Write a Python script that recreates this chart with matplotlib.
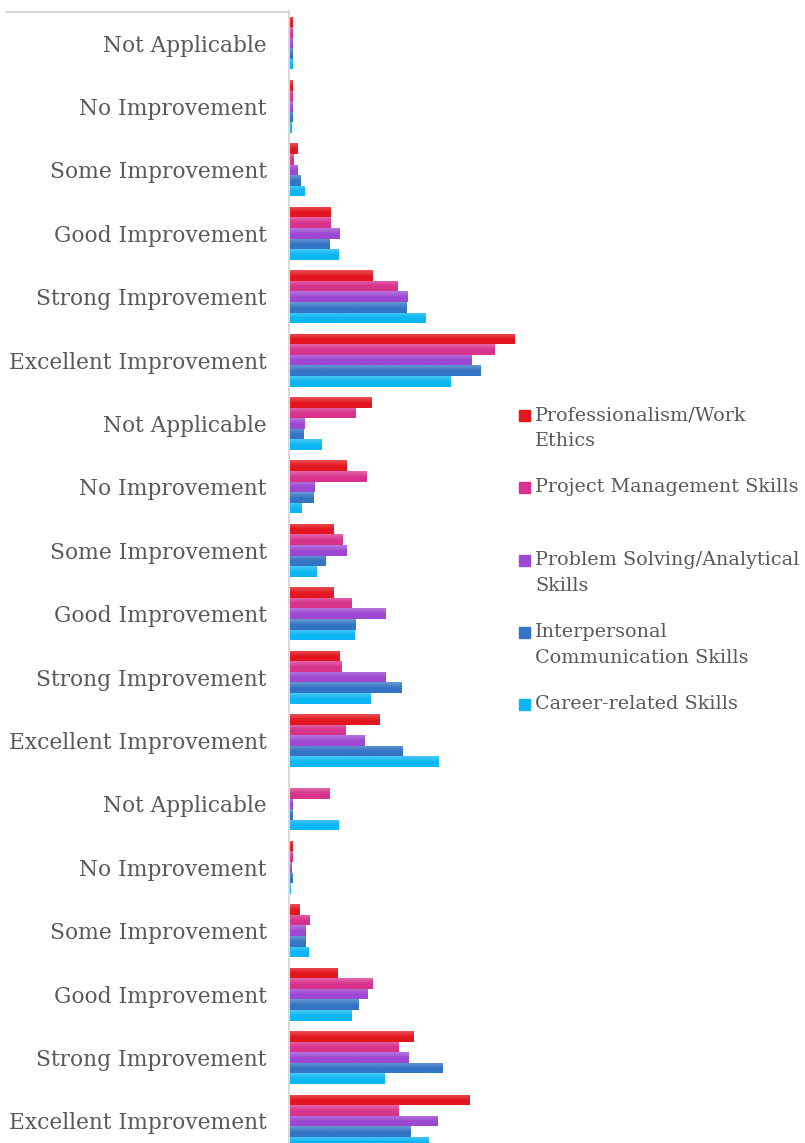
import numpy as np
import matplotlib as mpl
mpl.use("Agg")
from matplotlib import pyplot as plt
from matplotlib.lines import Line2D
from matplotlib.patches import Rectangle
from matplotlib.colors import to_rgb

# categories, top to bottom (three blocks of six)
levels = ["Not Applicable", "No Improvement", "Some Improvement",
          "Good Improvement", "Strong Improvement", "Excellent Improvement"]
categories = levels * 3

series = ["Professionalism/Work\nEthics", "Project Management Skills",
          "Problem Solving/Analytical\nSkills", "Interpersonal\nCommunication Skills",
          "Career-related Skills"]

# percentages (each block per series sums to ~100)
professionalism = [0.8, 0.8, 2.2, 11.3, 22.9, 61.9,
                   22.6, 15.5, 11.9, 11.9, 13.8, 24.8,
                   0.0, 0.8, 2.5, 13.0, 34.2, 49.5]
project_mgmt = [0.8, 0.6, 1.1, 11.3, 29.8, 56.4,
                18.2, 21.0, 14.6, 16.9, 14.1, 15.2,
                11.0, 0.6, 5.5, 22.9, 30.1, 30.0]
problem_solving = [0.8, 0.6, 2.2, 13.8, 32.4, 50.2,
                   4.1, 6.9, 15.5, 26.5, 26.5, 20.5,
                   0.6, 0.3, 4.4, 21.3, 32.6, 40.8]
interpersonal = [0.8, 0.6, 2.8, 11.0, 32.2, 52.6,
                 3.6, 6.6, 9.9, 18.0, 30.9, 31.0,
                 0.6, 0.8, 4.4, 18.8, 42.2, 33.2]
career = [0.8, 0.3, 3.9, 13.3, 37.3, 44.4,
          8.6, 3.3, 7.2, 17.7, 22.1, 41.1,
          13.3, 0.1, 5.2, 17.1, 26.0, 38.3]

values = [professionalism, project_mgmt, problem_solving, interpersonal, career]
colors = ["#e3161e", "#d8338c", "#9d48d2", "#3474c4", "#0cb6f2"]
text_col = "#595959"
font = ["DejaVu Serif"]

W, H = 805, 1143
fig = plt.figure(figsize=(W / 100, H / 100), dpi=100)

# axes spans 290..515 px horizontally, 11.3..1152.7 px vertically (cut at the bottom)
ax = fig.add_axes([290 / W, 1 - 1152.7 / H, 225 / W, 1141.4 / H])


def gradient(c):
    # lighter at the top of the bar, base colour from the middle down
    base = np.array(to_rgb(c))
    light = base + (1 - base) * 0.25
    t = np.clip(np.linspace(0, 1, 32) / 0.55, 0, 1)[:, None]
    g = light * (1 - t) + base * t
    return g[:, None, :]


n = len(categories)
y = np.arange(n)
h = 0.167
for j, (vals, c) in enumerate(zip(values, colors)):
    pos = y + (j - 2) * h
    bars = ax.barh(pos, vals, height=h, color=c, linewidth=0)
    img = gradient(c)
    for b in bars:
        if b.get_width() <= 0:
            continue
        x0, y0 = b.get_x(), b.get_y()
        im = ax.imshow(img, extent=(x0, x0 + b.get_width(), y0 + b.get_height(), y0),
                       aspect="auto", interpolation="bilinear", zorder=b.get_zorder() + 0.1)
        im.set_clip_path(b)

for s in ["top", "right", "bottom"]:
    ax.spines[s].set_visible(False)
ax.spines["left"].set_position(("outward", 1))
ax.spines["left"].set_color("#d9d9d9")
ax.spines["left"].set_linewidth(1.5)
ax.patch.set_alpha(0)

ax.set_ylim(n - 0.5, -0.5)
ax.set_xlim(0, 225 / 3.62)
ax.set_aspect("auto")
ax.set_yticks(y)
ax.set_yticklabels(categories, fontsize=15.7, color=text_col, family=font)
ax.tick_params(axis="y", length=0, pad=15.8)
ax.set_xticks([])

# thin border along the top left
fig.add_artist(Line2D([6 / W, 289 / W], [1 - 12 / H, 1 - 12 / H],
                      color="#d9d9d9", linewidth=1.5))

# legend, placed by hand like the original
leg_y = [415, 487, 560, 632, 704]
for lab, c, yy in zip(series, colors, leg_y):
    fig.add_artist(Rectangle((519 / W, 1 - (yy + 6) / H), 11 / W, 11 / H,
                             color=c, transform=fig.transFigure))
    fig.text(535 / W, 1 - (yy - 9) / H, lab, fontsize=13.8, color=text_col,
             family=font, va="top", ha="left", linespacing=1.55)

fig.savefig("out.png", dpi=100, facecolor="white")
